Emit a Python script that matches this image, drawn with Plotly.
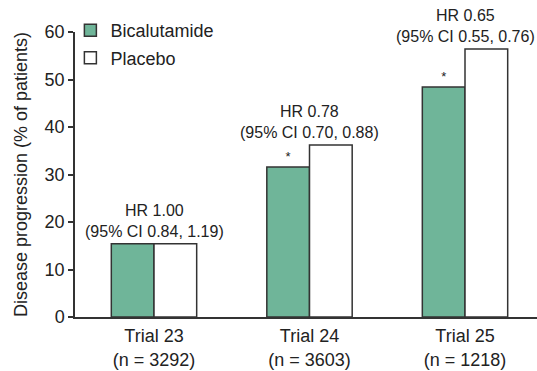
import plotly.graph_objects as go

trials = ["Trial 23<br>(n = 3292)", "Trial 24<br>(n = 3603)", "Trial 25<br>(n = 1218)"]
bicalutamide = [15.4, 31.6, 48.4]
placebo = [15.4, 36.2, 56.4]
significance = ["", "*", "*"]
hr_labels = [
    "HR 1.00<br>(95% CI 0.84, 1.19)",
    "HR 0.78<br>(95% CI 0.70, 0.88)",
    "HR 0.65<br>(95% CI 0.55, 0.76)",
]
y_ticks = [0, 10, 20, 30, 40, 50, 60]

FONT = "Liberation Sans, Arial, Helvetica, sans-serif"
TXT = "#222222"
EDGE = "#333333"
GREEN = "#6fb599"

fig = go.Figure()
fig.add_trace(go.Bar(
    name="Bicalutamide", x=trials, y=bicalutamide,
    marker=dict(color=GREEN, line=dict(color=EDGE, width=1.5)),
    text=significance, textposition="outside",
    textfont=dict(size=13, color=TXT, family=FONT),
    cliponaxis=False, legendgroup="a",
))
fig.add_trace(go.Bar(
    name="Placebo", x=trials, y=placebo,
    marker=dict(color="white", line=dict(color=EDGE, width=1.5)),
    cliponaxis=False, legendgroup="b",
))

for cat, b, p, lab in zip(trials, bicalutamide, placebo, hr_labels):
    fig.add_annotation(
        x=cat, y=max(b, p), text=lab, showarrow=False,
        xanchor="center", yanchor="bottom", yshift=2,
        font=dict(size=16, color=TXT, family=FONT),
    )

fig.update_layout(
    width=537, height=371,
    margin=dict(l=75, r=0, t=32, b=54),
    paper_bgcolor="white", plot_bgcolor="white",
    font=dict(family=FONT, size=18, color=TXT),
    barmode="group", bargap=0.451, bargroupgap=0,
    showlegend=True,
    legend=dict(
        x=-0.01, y=1.07, xanchor="left", yanchor="top",
        bgcolor="rgba(0,0,0,0)", font=dict(size=18, color=TXT, family=FONT),
        traceorder="grouped", tracegroupgap=1,
    ),
    xaxis=dict(
        range=[-0.508, 2.463], showline=True, linecolor=EDGE, linewidth=1.5,
        ticks="", showgrid=False, zeroline=False, ticklabelstandoff=2,
        automargin=False,
        tickfont=dict(size=18, color=TXT, family=FONT),
    ),
    yaxis=dict(
        range=[0, 60], tickvals=y_ticks, showline=True, linecolor=EDGE, linewidth=1.5,
        ticks="outside", ticklen=5, tickwidth=1.5, tickcolor=EDGE,
        showgrid=False, zeroline=False, automargin=False,
        tickfont=dict(size=18, color=TXT, family=FONT),
        title=dict(text="Disease progression (% of patients)", standoff=12,
                   font=dict(size=18, color=TXT, family=FONT)),
    ),
)

fig.write_html(
    "out.html",
    config={"displayModeBar": False},
    post_script="document.body.style.margin='0';document.body.style.overflow='hidden';",
)
